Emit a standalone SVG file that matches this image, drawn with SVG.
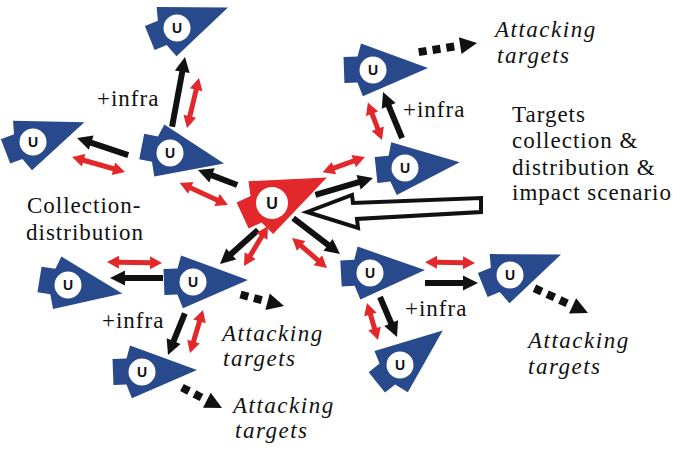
<svg xmlns="http://www.w3.org/2000/svg" xmlns:xlink="http://www.w3.org/1999/xlink" width="678" height="449" viewBox="0 0 678 449">
<style>
.b{fill:#28498c}
.r{fill:#e2282a}
.cw{fill:#fff}
.u{font-family:'Liberation Sans',Arial,sans-serif;font-weight:bold;font-size:14px;text-anchor:middle;fill:#111}
.bl{stroke:#111;stroke-width:6;fill:none}
.rl{stroke:#e2282a;stroke-width:5;fill:none}
.dl{stroke:#111;stroke-width:8;stroke-dasharray:8 6;fill:none}
.hk{fill:#111}
.hr{fill:#e2282a}
text.t{font-family:'Liberation Serif','Times New Roman',Times,Tinos,'Noto Serif','DejaVu Serif',FreeSerif,serif;font-size:23px;fill:#111;letter-spacing:1px}
text.ti{font-family:'Liberation Serif','Times New Roman',Times,Tinos,'Noto Serif','DejaVu Serif',FreeSerif,serif;font-size:23px;font-style:italic;fill:#111;letter-spacing:1.5px}
</style>
<defs>
<polygon id="sh" points="55,0 -11,-27 -15,-14 -29,-14 -29,12 -16,12 -11,26"/>
<path id="hb" d="M-15,-7.5 L0,0 L-15,7.5 z"/>
<path id="hrd" d="M-12,-6.5 L0,0 L-12,6.5 z"/>
<path id="hd" d="M-17,-8.5 L0,0 L-17,8.5 z"/>
</defs>
<rect width="678" height="449" fill="#fff"/>
<g id="nodes">
<g id="n1" transform="translate(177,28)"><use xlink:href="#sh" class="b" transform="rotate(-22)"/><circle class="cw" r="13.5"/><text class="u" y="5">U</text></g>
<g id="n2" transform="translate(170,153)"><use xlink:href="#sh" class="b" transform="rotate(11)"/><circle class="cw" r="13.5"/><text class="u" y="5">U</text></g>
<g id="n3" transform="translate(33,142)"><use xlink:href="#sh" class="b" transform="rotate(-21)"/><circle class="cw" r="13.5"/><text class="u" y="5">U</text></g>
<g id="center" transform="translate(272,203)"><use xlink:href="#sh" class="r" transform="rotate(-25) scale(1.1)"/><circle class="cw" r="16"/><text class="u" y="6" style="font-size:16px">U</text></g>
<g id="n5" transform="translate(373,70)"><use xlink:href="#sh" class="b" transform="rotate(-2)"/><circle class="cw" r="13.5"/><text class="u" y="5">U</text></g>
<g id="n6" transform="translate(405,168)"><use xlink:href="#sh" class="b" transform="rotate(-6)"/><circle class="cw" r="13.5"/><text class="u" y="5">U</text></g>
<g id="n7" transform="translate(68,285)"><use xlink:href="#sh" class="b" transform="rotate(9)"/><circle class="cw" r="13.5"/><text class="u" y="5">U</text></g>
<g id="n8" transform="translate(193,282)"><use xlink:href="#sh" class="b" transform="rotate(-2)"/><circle class="cw" r="13.5"/><text class="u" y="5">U</text></g>
<g id="n9" transform="translate(142,372)"><use xlink:href="#sh" class="b" transform="rotate(-2)"/><circle class="cw" r="13.5"/><text class="u" y="5">U</text></g>
<g id="n10" transform="translate(370,273)"><use xlink:href="#sh" class="b" transform="rotate(-3)"/><circle class="cw" r="13.5"/><text class="u" y="5">U</text></g>
<g id="n11" transform="translate(510,275)"><use xlink:href="#sh" class="b" transform="rotate(-22)"/><circle class="cw" r="13.5"/><text class="u" y="5">U</text></g>
<g id="n12" transform="translate(400,365)"><use xlink:href="#sh" class="b" transform="rotate(-39)"/><circle class="cw" r="13.5"/><text class="u" y="5">U</text></g>
</g>
<g id="connectors">
<g transform="translate(185,57) rotate(-79.5)"><path class="bl" d="M-71,0 H-13"/><use xlink:href="#hb" class="hk"/></g>
<g transform="translate(77,138) rotate(-161.6)"><path class="bl" d="M-54,0 H-13"/><use xlink:href="#hb" class="hk"/></g>
<g transform="translate(198,170) rotate(-159)"><path class="bl" d="M-42,0 H-13"/><use xlink:href="#hb" class="hk"/></g>
<g transform="translate(373,178) rotate(-16.3)"><path class="bl" d="M-60,0 H-13"/><use xlink:href="#hb" class="hk"/></g>
<g transform="translate(383,92) rotate(-112.4)"><path class="bl" d="M-50,0 H-13"/><use xlink:href="#hb" class="hk"/></g>
<g transform="translate(220,264) rotate(138.2)"><path class="bl" d="M-51,0 H-13"/><use xlink:href="#hb" class="hk"/></g>
<g transform="translate(110,278) rotate(180)"><path class="bl" d="M-53,0 H-13"/><use xlink:href="#hb" class="hk"/></g>
<g transform="translate(168,355) rotate(112)"><path class="bl" d="M-45,0 H-13"/><use xlink:href="#hb" class="hk"/></g>
<g transform="translate(340,254) rotate(37.5)"><path class="bl" d="M-59,0 H-13"/><use xlink:href="#hb" class="hk"/></g>
<g transform="translate(478,283)"><path class="bl" d="M-53,0 H-13"/><use xlink:href="#hb" class="hk"/></g>
<g transform="translate(397,337) rotate(67)"><path class="bl" d="M-43.5,0 H-13"/><use xlink:href="#hb" class="hk"/></g>
<g transform="translate(187,128) rotate(103.5)"><path class="rl" d="M-40.4,0 H-11"/><use xlink:href="#hrd" class="hr"/><use xlink:href="#hrd" class="hr" transform="translate(-51.4,0) rotate(180)"/></g>
<g transform="translate(125,172) rotate(15.8)"><path class="rl" d="M-44,0 H-11"/><use xlink:href="#hrd" class="hr"/><use xlink:href="#hrd" class="hr" transform="translate(-55,0) rotate(180)"/></g>
<g transform="translate(228,205) rotate(24.6)"><path class="rl" d="M-42,0 H-11"/><use xlink:href="#hrd" class="hr"/><use xlink:href="#hrd" class="hr" transform="translate(-53,0) rotate(180)"/></g>
<g transform="translate(365,157) rotate(-19.7)"><path class="rl" d="M-34,0 H-11"/><use xlink:href="#hrd" class="hr"/><use xlink:href="#hrd" class="hr" transform="translate(-45,0) rotate(180)"/></g>
<g transform="translate(382,140) rotate(69.3)"><path class="rl" d="M-29,0 H-11"/><use xlink:href="#hrd" class="hr"/><use xlink:href="#hrd" class="hr" transform="translate(-40,0) rotate(180)"/></g>
<g transform="translate(244,266) rotate(121)"><path class="rl" d="M-35.6,0 H-11"/><use xlink:href="#hrd" class="hr"/><use xlink:href="#hrd" class="hr" transform="translate(-46.6,0) rotate(180)"/></g>
<g transform="translate(162,263) rotate(1)"><path class="rl" d="M-44,0 H-11"/><use xlink:href="#hrd" class="hr"/><use xlink:href="#hrd" class="hr" transform="translate(-55,0) rotate(180)"/></g>
<g transform="translate(190,353) rotate(106.8)"><path class="rl" d="M-34,0 H-11"/><use xlink:href="#hrd" class="hr"/><use xlink:href="#hrd" class="hr" transform="translate(-45,0) rotate(180)"/></g>
<g transform="translate(327,268) rotate(40.6)"><path class="rl" d="M-35,0 H-11"/><use xlink:href="#hrd" class="hr"/><use xlink:href="#hrd" class="hr" transform="translate(-46,0) rotate(180)"/></g>
<g transform="translate(475,263) rotate(1)"><path class="rl" d="M-39,0 H-11"/><use xlink:href="#hrd" class="hr"/><use xlink:href="#hrd" class="hr" transform="translate(-50,0) rotate(180)"/></g>
<g transform="translate(378,340) rotate(73.4)"><path class="rl" d="M-27.6,0 H-11"/><use xlink:href="#hrd" class="hr"/><use xlink:href="#hrd" class="hr" transform="translate(-38.6,0) rotate(180)"/></g>
<g transform="translate(477,43) rotate(-8.9)"><path class="dl" d="M-59,0 H-23"/><use xlink:href="#hd" class="hk"/></g>
<g transform="translate(284,306) rotate(14.8)"><path class="dl" d="M-45,0 H-23"/><use xlink:href="#hd" class="hk"/></g>
<g transform="translate(222,408) rotate(27.1)"><path class="dl" d="M-45,0 H-23"/><use xlink:href="#hd" class="hk"/></g>
<g transform="translate(588,313) rotate(24.8)"><path class="dl" d="M-59,0 H-23"/><use xlink:href="#hd" class="hk"/></g>
<polygon points="307,212 352,195 353,203 481,198 481,212 357,219 358,228" fill="#fff" stroke="#111" stroke-width="4" stroke-linejoin="miter"/>
</g>
<g id="labels">
<text class="t" x="97" y="106">+infra</text>
<text class="t" x="403" y="117">+infra</text>
<text class="t" x="102" y="328">+infra</text>
<text class="t" x="405" y="316">+infra</text>
<text class="t" x="512" y="122">Targets</text>
<text class="t" x="512" y="148">collection &amp;</text>
<text class="t" x="512" y="175">distribution &amp;</text>
<text class="t" x="512" y="200">impact scenario</text>
<text class="t" x="27" y="213">Collection-</text>
<text class="t" x="26" y="240">distribution</text>
<text class="ti" x="495" y="37">Attacking</text>
<text class="ti" x="497" y="63">targets</text>
<text class="ti" x="222" y="341">Attacking</text>
<text class="ti" x="223" y="366">targets</text>
<text class="ti" x="233" y="413">Attacking</text>
<text class="ti" x="235" y="438">targets</text>
<text class="ti" x="528" y="348">Attacking</text>
<text class="ti" x="528" y="374">targets</text>
</g>
</svg>
